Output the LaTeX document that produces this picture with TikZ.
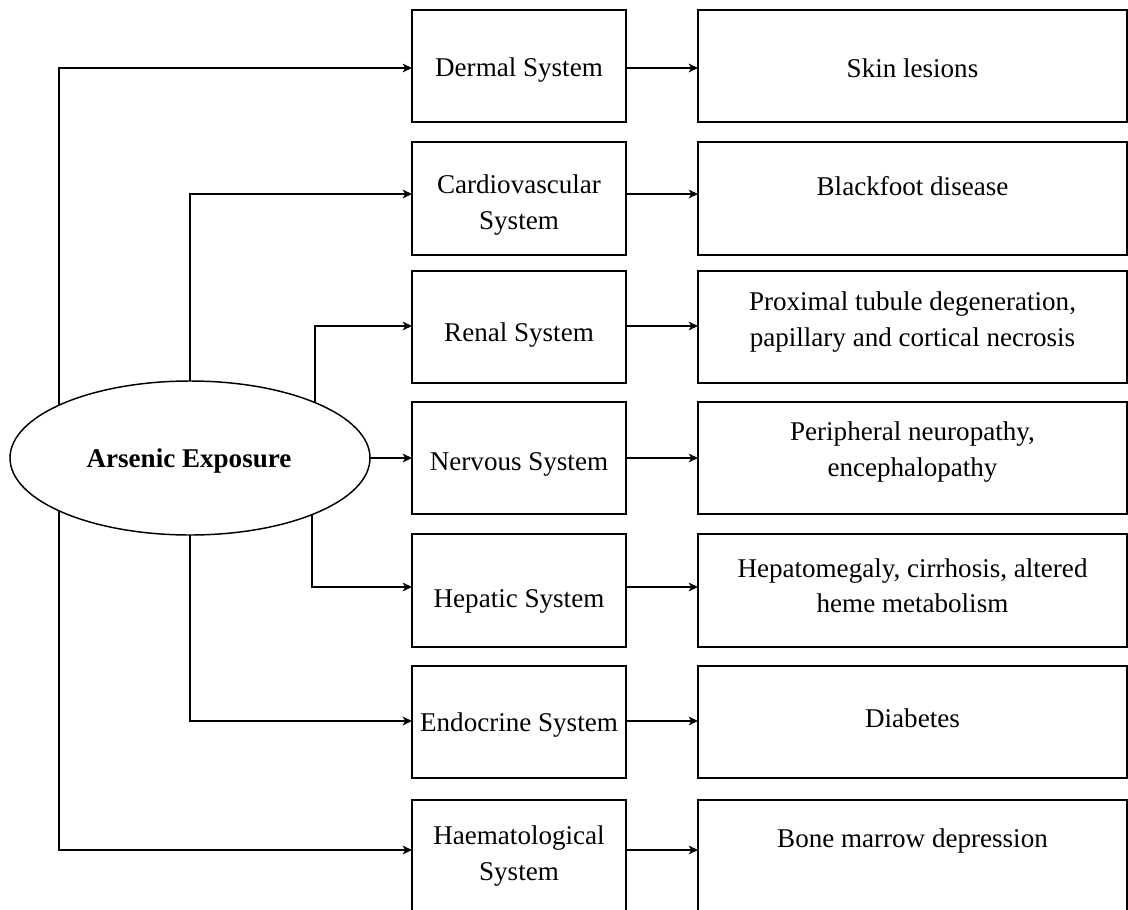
\documentclass[tikz,border=0pt]{standalone}
\usepackage{fontspec}
\setmainfont{Liberation Serif}
\usetikzlibrary{arrows.meta,shapes.geometric}
\begin{document}
\begin{tikzpicture}[x=0.75pt,y=-0.75pt,
  box/.style={draw, line width=1.4pt, rectangle, inner sep=0pt, outer sep=0pt},
  midbox/.style={box, minimum width=160.5pt, minimum height=84.5pt},
  resbox/.style={box, minimum width=321.75pt, minimum height=84.5pt},
  lbl/.style={align=center, font=\fontsize{20.3}{26.5}\selectfont, inner sep=0pt},
  arr/.style={line width=1.5pt, -{Stealth[length=7pt,width=6.5pt,inset=2pt]}},
]
\useasboundingbox (0,0) rectangle (1128,910);

% ellipse
\node[ellipse, draw, line width=1.1pt, minimum width=270pt, minimum height=115.5pt,
      inner sep=0pt, outer sep=0pt] (ell) at (190,458) {};
\node[lbl, font=\fontsize{20.3}{26.5}\selectfont\bfseries] (elltext) at (189,461) {Arsenic Exposure};

% middle boxes
\node[midbox] (m1) at (519,66) {};
\node[midbox] (m2) at (519,198.5) {};
\node[midbox] (m3) at (519,327) {};
\node[midbox] (m4) at (519,458) {};
\node[midbox] (m5) at (519,590.5) {};
\node[midbox] (m6) at (519,722) {};
\node[midbox, minimum height=87pt] (m7) at (519,858) {};

% result boxes
\node[resbox] (r1) at (912.5,66) {};
\node[resbox] (r2) at (912.5,198.5) {};
\node[resbox] (r3) at (912.5,327) {};
\node[resbox] (r4) at (912.5,458) {};
\node[resbox] (r5) at (912.5,590.5) {};
\node[resbox] (r6) at (912.5,722) {};
\node[resbox, minimum height=87pt] (r7) at (912.5,858) {};

% middle labels
\node[lbl] (t1) at (519,70) {Dermal System};
\node[lbl] (t2) at (519,205) {Cardiovascular\\System};
\node[lbl] (t3) at (519,335) {Renal System};
\node[lbl] (t4) at (519,464) {Nervous System};
\node[lbl] (t5) at (519,601) {Hepatic System};
\node[lbl] (t6) at (519,725) {Endocrine System};
\node[lbl] (t7) at (519,856) {Haematological\\System};

% result labels
\node[lbl] (s1) at (912.5,68) {Skin lesions};
\node[lbl] (s2) at (912.5,186) {Blackfoot disease};
\node[lbl] (s3) at (912.5,322) {Proximal tubule degeneration,\\papillary and cortical necrosis};
\node[lbl] (s4) at (912.5,452) {Peripheral neuropathy,\\encephalopathy};
\node[lbl] (s5) at (912.5,586) {Hepatomegaly, cirrhosis, altered\\heme metabolism};
\node[lbl] (s6) at (912.5,718) {Diabetes};
\node[lbl] (s7) at (912.5,841) {Bone marrow depression};

% arrow rows
\coordinate (y1) at (0,68);
\coordinate (y2) at (0,194);
\coordinate (y3) at (0,326);
\coordinate (y4) at (0,458);
\coordinate (y5) at (0,587);
\coordinate (y6) at (0,721);
\coordinate (y7) at (0,850);

% connectors from ellipse
\draw[arr] (ell.158) |- (m1.west |- y1);
\draw[arr] (ell.north) |- (m2.west |- y2);
\draw[arr] (ell.24.5) |- (m3.west |- y3);
\draw[arr] (ell.east) -- (m4.west);
\draw[arr] (ell.335.5) |- (m5.west |- y5);
\draw[arr] (ell.south) |- (m6.west |- y6);
\draw[arr] (ell.202) |- (m7.west |- y7);

% connectors to results
\draw[arr] (m1.east |- y1) -- (r1.west |- y1);
\draw[arr] (m2.east |- y2) -- (r2.west |- y2);
\draw[arr] (m3.east |- y3) -- (r3.west |- y3);
\draw[arr] (m4.east |- y4) -- (r4.west |- y4);
\draw[arr] (m5.east |- y5) -- (r5.west |- y5);
\draw[arr] (m6.east |- y6) -- (r6.west |- y6);
\draw[arr] (m7.east |- y7) -- (r7.west |- y7);
\end{tikzpicture}
\end{document}
